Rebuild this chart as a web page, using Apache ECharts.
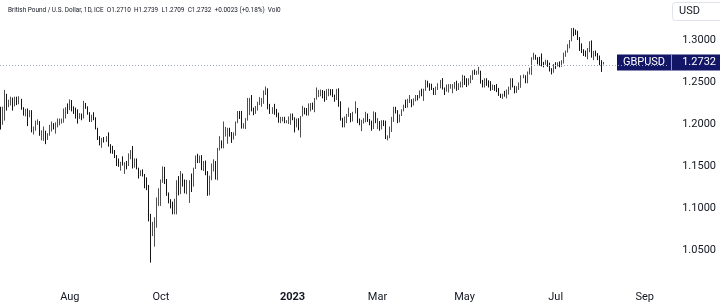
<!DOCTYPE html>
<html><head><meta charset="utf-8">
<script src="https://cdn.jsdelivr.net/npm/echarts@6/dist/echarts.min.js"></script>
<style>html,body{margin:0;padding:0;background:#fff}#c{width:720px;height:307px}</style>
</head><body><div id="c"></div>
<script>
// ---- data: daily [open, high, low, close], one array per month (weekdays only) ----
const startDate = '2022-06-14';
const totalSlots = 330; // weekdays shown on the time scale (incl. empty future days)
const jun22 = [[1.2135,1.2205,1.1934,1.1995],[1.2000,1.2205,1.1990,1.2180],[1.2180,1.2406,1.2040,1.2350],[1.2350,1.2360,1.2160,1.2225],[1.2225,1.2290,1.2200,1.2265],[1.2265,1.2325,1.2220,1.2275],[1.2275,1.2315,1.2160,1.2260],[1.2260,1.2325,1.2210,1.2270],[1.2270,1.2325,1.2225,1.2265],[1.2265,1.2330,1.2235,1.2270],[1.2270,1.2300,1.2170,1.2185],[1.2185,1.2200,1.2100,1.2125],[1.2125,1.2180,1.2090,1.2175]];
const jul22 = [[1.2175,1.2185,1.1975,1.2100],[1.2100,1.2165,1.2080,1.2115],[1.2115,1.2165,1.1900,1.1925],[1.1925,1.1970,1.1875,1.1945],[1.1945,1.2040,1.1920,1.2030],[1.2030,1.2055,1.1990,1.2030],[1.2030,1.2035,1.1860,1.1890],[1.1890,1.1925,1.1805,1.1890],[1.1890,1.1970,1.1800,1.1915],[1.1915,1.1920,1.1760,1.1830],[1.1830,1.1890,1.1810,1.1865],[1.1865,1.1990,1.1860,1.1960],[1.1960,1.2030,1.1910,1.1985],[1.1985,1.2010,1.1935,1.1975],[1.1975,1.2020,1.1885,1.1995],[1.1995,1.2065,1.1960,1.2005],[1.2005,1.2065,1.1985,1.2030],[1.2030,1.2065,1.2005,1.2035],[1.2035,1.2185,1.2015,1.2160],[1.2160,1.2200,1.2065,1.2175],[1.2175,1.2245,1.2120,1.2170]];
const aug22 = [[1.2170,1.2293,1.2165,1.2240],[1.2240,1.2285,1.2150,1.2165],[1.2165,1.2210,1.2120,1.2155],[1.2155,1.2195,1.2065,1.2150],[1.2150,1.2175,1.2005,1.2075],[1.2075,1.2130,1.2060,1.2100],[1.2100,1.2125,1.2045,1.2075],[1.2075,1.2276,1.2065,1.2215],[1.2215,1.2250,1.2180,1.2200],[1.2200,1.2210,1.2110,1.2130],[1.2130,1.2140,1.2025,1.2055],[1.2055,1.2110,1.2025,1.2095],[1.2095,1.2140,1.2045,1.2060],[1.2060,1.2080,1.1935,1.1935],[1.1935,1.1955,1.1810,1.1830],[1.1830,1.1855,1.1745,1.1765],[1.1765,1.1835,1.1717,1.1825],[1.1825,1.1845,1.1780,1.1810],[1.1810,1.1855,1.1785,1.1830],[1.1830,1.1900,1.1730,1.1735],[1.1735,1.1760,1.1650,1.1690],[1.1690,1.1740,1.1645,1.1650],[1.1650,1.1690,1.1595,1.1620]];
const sep22 = [[1.1620,1.1630,1.1500,1.1540],[1.1540,1.1590,1.1490,1.1510],[1.1510,1.1550,1.1445,1.1525],[1.1525,1.1615,1.1505,1.1510],[1.1510,1.1545,1.1405,1.1530],[1.1530,1.1560,1.1460,1.1505],[1.1505,1.1650,1.1500,1.1590],[1.1590,1.1690,1.1580,1.1680],[1.1680,1.1738,1.1470,1.1500],[1.1500,1.1590,1.1480,1.1545],[1.1545,1.1590,1.1460,1.1470],[1.1470,1.1480,1.1351,1.1420],[1.1420,1.1450,1.1380,1.1435],[1.1435,1.1460,1.1375,1.1385],[1.1385,1.1405,1.1235,1.1270],[1.1270,1.1365,1.1212,1.1255],[1.1255,1.1275,1.0840,1.0860],[1.0860,1.0930,1.0350,1.0685],[1.0685,1.0835,1.0665,1.0730],[1.0730,1.0890,1.0540,1.0890],[1.0890,1.1125,1.0765,1.1120],[1.1120,1.1235,1.1025,1.1165]];
const oct22 = [[1.1165,1.1340,1.1025,1.1320],[1.1320,1.1495,1.1300,1.1475],[1.1475,1.1490,1.1285,1.1325],[1.1325,1.1345,1.1145,1.1155],[1.1155,1.1185,1.1055,1.1090],[1.1090,1.1105,1.0995,1.1055],[1.1055,1.1075,1.0925,1.0970],[1.0970,1.1110,1.0925,1.1100],[1.1100,1.1330,1.0925,1.1320],[1.1320,1.1380,1.1150,1.1175],[1.1175,1.1440,1.1165,1.1355],[1.1355,1.1410,1.1255,1.1320],[1.1320,1.1340,1.1175,1.1215],[1.1215,1.1335,1.1165,1.1225],[1.1225,1.1330,1.1060,1.1305],[1.1305,1.1410,1.1190,1.1290],[1.1290,1.1480,1.1255,1.1475],[1.1475,1.1625,1.1465,1.1620],[1.1620,1.1645,1.1535,1.1585],[1.1585,1.1625,1.1535,1.1620],[1.1620,1.1630,1.1450,1.1465]];
const nov22 = [[1.1465,1.1560,1.1440,1.1505],[1.1505,1.1565,1.1390,1.1390],[1.1390,1.1440,1.1145,1.1160],[1.1160,1.1385,1.1150,1.1375],[1.1375,1.1530,1.1330,1.1510],[1.1510,1.1580,1.1435,1.1545],[1.1545,1.1560,1.1340,1.1355],[1.1355,1.1715,1.1330,1.1705],[1.1705,1.1855,1.1685,1.1795],[1.1795,1.1805,1.1710,1.1755],[1.1755,1.2030,1.1710,1.1860],[1.1860,1.1965,1.1850,1.1870],[1.1870,1.1955,1.1765,1.1905],[1.1905,1.1955,1.1850,1.1890],[1.1890,1.1905,1.1775,1.1825],[1.1825,1.1900,1.1815,1.1890],[1.1890,1.2030,1.1860,1.2015],[1.2015,1.2155,1.2010,1.2120],[1.2120,1.2155,1.2060,1.2095],[1.2095,1.2155,1.1945,1.1960],[1.1960,1.2010,1.1945,1.1965],[1.1965,1.2070,1.1940,1.2055]];
const dec22 = [[1.2055,1.2310,1.2040,1.2265],[1.2265,1.2310,1.2105,1.2285],[1.2285,1.2345,1.2150,1.2180],[1.2180,1.2195,1.2105,1.2160],[1.2160,1.2215,1.2120,1.2190],[1.2190,1.2265,1.2160,1.2235],[1.2235,1.2320,1.2225,1.2265],[1.2265,1.2310,1.2205,1.2275],[1.2275,1.2400,1.2240,1.2370],[1.2370,1.2446,1.2345,1.2420],[1.2420,1.2425,1.2175,1.2185],[1.2185,1.2240,1.2120,1.2140],[1.2140,1.2200,1.2120,1.2170],[1.2170,1.2240,1.2110,1.2155],[1.2155,1.2180,1.2080,1.2100],[1.2100,1.2135,1.2015,1.2035],[1.2035,1.2085,1.2010,1.2045],[1.2045,1.2085,1.2030,1.2070],[1.2070,1.2085,1.2010,1.2025],[1.2025,1.2045,1.2010,1.2025],[1.2025,1.2090,1.2000,1.2070],[1.2070,1.2125,1.1990,1.2095]];
const jan23 = [[1.2095,1.2125,1.2045,1.2065],[1.2065,1.2080,1.1900,1.1970],[1.1970,1.2065,1.1960,1.2060],[1.2060,1.2070,1.1925,1.1935],[1.1935,1.2095,1.1840,1.2090],[1.2090,1.2215,1.2090,1.2180],[1.2180,1.2195,1.2115,1.2155],[1.2155,1.2190,1.2100,1.2150],[1.2150,1.2245,1.2100,1.2215],[1.2215,1.2250,1.2150,1.2230],[1.2230,1.2255,1.2170,1.2200],[1.2200,1.2310,1.2140,1.2305],[1.2305,1.2435,1.2290,1.2350],[1.2350,1.2405,1.2320,1.2390],[1.2390,1.2410,1.2330,1.2395],[1.2395,1.2405,1.2305,1.2370],[1.2370,1.2395,1.2265,1.2315],[1.2315,1.2415,1.2285,1.2405],[1.2405,1.2420,1.2330,1.2405],[1.2405,1.2415,1.2340,1.2390],[1.2390,1.2415,1.2320,1.2330],[1.2330,1.2350,1.2265,1.2320]];
const feb23 = [[1.2320,1.2418,1.2285,1.2395],[1.2395,1.2425,1.2205,1.2225],[1.2225,1.2270,1.2040,1.2050],[1.2050,1.2075,1.1960,1.2020],[1.2020,1.2090,1.1960,1.2045],[1.2045,1.2120,1.2010,1.2105],[1.2105,1.2195,1.2085,1.2115],[1.2115,1.2130,1.2020,1.2050],[1.2050,1.2145,1.2030,1.2135],[1.2135,1.2270,1.2125,1.2180],[1.2180,1.2190,1.2010,1.2040],[1.2040,1.2065,1.1985,1.2005],[1.2005,1.2050,1.1915,1.2030],[1.2030,1.2070,1.2005,1.2040],[1.2040,1.2145,1.2020,1.2115],[1.2115,1.2125,1.2025,1.2050],[1.2050,1.2060,1.1985,1.1995],[1.1995,1.2040,1.1920,1.1945],[1.1945,1.2150,1.1940,1.2070],[1.2070,1.2140,1.2010,1.2020]];
const mar23 = [[1.2020,1.2070,1.1940,1.2025],[1.2025,1.2035,1.1920,1.1950],[1.1950,1.2045,1.1935,1.2040],[1.2040,1.2045,1.1975,1.2015],[1.2015,1.2040,1.1820,1.1825],[1.1825,1.1865,1.1805,1.1840],[1.1840,1.1970,1.1830,1.1955],[1.1955,1.2085,1.1905,1.2030],[1.2030,1.2205,1.2025,1.2175],[1.2175,1.2205,1.2125,1.2160],[1.2160,1.2165,1.2010,1.2060],[1.2060,1.2115,1.2020,1.2110],[1.2110,1.2175,1.2095,1.2175],[1.2175,1.2230,1.2150,1.2225],[1.2225,1.2290,1.2190,1.2215],[1.2215,1.2300,1.2195,1.2270],[1.2270,1.2345,1.2250,1.2285],[1.2285,1.2295,1.2200,1.2230],[1.2230,1.2305,1.2220,1.2295],[1.2295,1.2345,1.2270,1.2330],[1.2330,1.2345,1.2280,1.2315],[1.2315,1.2400,1.2305,1.2390],[1.2390,1.2420,1.2330,1.2335]];
const apr23 = [[1.2335,1.2420,1.2275,1.2405],[1.2405,1.2525,1.2395,1.2495],[1.2495,1.2515,1.2435,1.2450],[1.2450,1.2485,1.2395,1.2445],[1.2445,1.2480,1.2405,1.2415],[1.2415,1.2430,1.2345,1.2360],[1.2360,1.2445,1.2345,1.2420],[1.2420,1.2485,1.2405,1.2450],[1.2450,1.2525,1.2425,1.2495],[1.2495,1.2546,1.2410,1.2415],[1.2415,1.2435,1.2345,1.2410],[1.2410,1.2470,1.2385,1.2430],[1.2430,1.2475,1.2375,1.2440],[1.2440,1.2475,1.2420,1.2440],[1.2440,1.2475,1.2365,1.2440],[1.2440,1.2500,1.2420,1.2490],[1.2490,1.2515,1.2395,1.2415],[1.2415,1.2485,1.2405,1.2470],[1.2470,1.2505,1.2435,1.2495],[1.2495,1.2585,1.2435,1.2565]];
const may23 = [[1.2565,1.2575,1.2465,1.2495],[1.2495,1.2545,1.2440,1.2475],[1.2475,1.2545,1.2460,1.2525],[1.2525,1.2580,1.2485,1.2565],[1.2565,1.2640,1.2525,1.2630],[1.2630,1.2650,1.2585,1.2620],[1.2620,1.2635,1.2585,1.2625],[1.2625,1.2680,1.2590,1.2630],[1.2630,1.2635,1.2480,1.2505],[1.2505,1.2525,1.2435,1.2445],[1.2445,1.2545,1.2435,1.2530],[1.2530,1.2545,1.2455,1.2490],[1.2490,1.2520,1.2435,1.2455],[1.2455,1.2510,1.2395,1.2415],[1.2415,1.2470,1.2405,1.2445],[1.2445,1.2465,1.2395,1.2430],[1.2430,1.2475,1.2380,1.2410],[1.2410,1.2430,1.2335,1.2345],[1.2345,1.2360,1.2310,1.2315],[1.2315,1.2360,1.2300,1.2345],[1.2345,1.2395,1.2325,1.2335],[1.2335,1.2410,1.2305,1.2370],[1.2370,1.2445,1.2350,1.2435]];
const jun23 = [[1.2435,1.2545,1.2405,1.2530],[1.2530,1.2545,1.2435,1.2445],[1.2445,1.2455,1.2365,1.2435],[1.2435,1.2450,1.2370,1.2435],[1.2435,1.2495,1.2405,1.2480],[1.2480,1.2580,1.2430,1.2575],[1.2575,1.2590,1.2545,1.2575],[1.2575,1.2580,1.2485,1.2505],[1.2505,1.2625,1.2485,1.2605],[1.2605,1.2670,1.2590,1.2650],[1.2650,1.2795,1.2585,1.2790],[1.2790,1.2848,1.2765,1.2820],[1.2820,1.2825,1.2765,1.2790],[1.2790,1.2795,1.2710,1.2765],[1.2765,1.2800,1.2695,1.2740],[1.2740,1.2840,1.2685,1.2720],[1.2720,1.2740,1.2675,1.2715],[1.2715,1.2765,1.2705,1.2715],[1.2715,1.2760,1.2680,1.2710],[1.2710,1.2730,1.2625,1.2640],[1.2640,1.2665,1.2590,1.2615],[1.2615,1.2715,1.2610,1.2705]];
const jul23 = [[1.2705,1.2735,1.2655,1.2700],[1.2700,1.2735,1.2685,1.2715],[1.2715,1.2745,1.2675,1.2705],[1.2705,1.2760,1.2680,1.2750],[1.2750,1.2850,1.2720,1.2835],[1.2835,1.2875,1.2800,1.2860],[1.2860,1.2950,1.2850,1.2935],[1.2935,1.3000,1.2900,1.2995],[1.2995,1.3142,1.2985,1.3130],[1.3130,1.3144,1.3045,1.3085],[1.3085,1.3125,1.3060,1.3080],[1.3080,1.3110,1.3000,1.3035],[1.3035,1.3035,1.2870,1.2935],[1.2935,1.2960,1.2845,1.2875],[1.2875,1.2890,1.2810,1.2855],[1.2855,1.2875,1.2800,1.2825],[1.2825,1.2905,1.2770,1.2890],[1.2890,1.2985,1.2855,1.2955],[1.2955,1.2995,1.2790,1.2795],[1.2795,1.2870,1.2760,1.2850],[1.2850,1.2875,1.2805,1.2835]];
const aug23 = [[1.2835,1.2845,1.2760,1.2780],[1.2780,1.2815,1.2700,1.2720],[1.2720,1.2760,1.2620,1.2709],[1.2710,1.2739,1.2709,1.2732]];

const tickLabels = [['2022-08-01','Aug'],['2022-10-03','Oct'],['2023-01-02','2023'],['2023-03-01','Mar'],['2023-05-01','May'],['2023-07-03','Jul'],['2023-09-01','Sep']];
const priceTicks = [1.05, 1.10, 1.15, 1.20, 1.25, 1.30];
const symbolName = 'GBPUSD';
const currency = 'USD';
const headerText = 'British Pound / U.S. Dollar, 1D, ICE  O1.2710  H1.2739  L1.2709  C1.2732  +0.0023 (+0.18%)  Vol0';

// ---- build ----
function businessDays(startIso, count) {
  const out = []; const d = new Date(startIso + 'T00:00:00Z');
  while (out.length < count) {
    const wd = d.getUTCDay();
    if (wd !== 0 && wd !== 6) out.push(d.toISOString().slice(0, 10));
    d.setUTCDate(d.getUTCDate() + 1);
  }
  return out;
}
const rows = [].concat(jun22, jul22, aug22, sep22, oct22, nov22, dec22, jan23, feb23, mar23, apr23, may23, jun23, jul23, aug23);
const dates = businessDays(startDate, totalSlots);
const candles = dates.map((d, i) => rows[i] ? [rows[i][0], rows[i][3], rows[i][2], rows[i][1]] : '-');
const lastClose = rows[rows.length - 1][3];
const labelMap = Object.fromEntries(tickLabels);
const tickSet = new Set(priceTicks.map(v => v.toFixed(2)));

const FONT = 'Roboto, "Liberation Sans", sans-serif';
const chart = echarts.init(document.getElementById('c'), null, { renderer: 'canvas' });
chart.setOption({
  animation: false,
  backgroundColor: '#ffffff',
  title: {
    text: headerText, left: 3, top: 2,
    textStyle: { fontSize: 6.4, fontWeight: 'normal', color: '#131722', fontFamily: FONT }
  },
  grid: { left: 0, right: 52, top: 0, bottom: 15, containLabel: false },
  xAxis: {
    type: 'category', data: dates, boundaryGap: true,
    axisLine: { show: false }, axisTick: { show: false }, splitLine: { show: false },
    axisLabel: {
      interval: (i, v) => labelMap[v] !== undefined,
      formatter: v => labelMap[v] === '2023' ? '{b|2023}' : (labelMap[v] || ''),
      margin: 0, color: '#131722', fontSize: 11, fontFamily: FONT,
      rich: { b: { fontWeight: 'bold', fontSize: 11, color: '#131722', fontFamily: FONT } }
    }
  },
  yAxis: {
    type: 'value', position: 'right', scale: false,
    min: 1.0, max: 1.30 + 40 / 840, interval: 0.05,
    axisLine: { show: false }, axisTick: { show: false }, splitLine: { show: false },
    axisLabel: {
      align: 'right', margin: 48, color: '#131722', fontSize: 11, fontFamily: FONT,
      formatter: v => tickSet.has(v.toFixed(2)) ? v.toFixed(4) : ''
    }
  },
  series: [{
    type: 'candlestick', data: candles, barWidth: 1.1,
    itemStyle: { color: '#8c8c8c', color0: '#141414', borderColor: '#505050', borderColor0: '#141414', borderWidth: 1 },
    markLine: {
      silent: true, symbol: 'none', animation: false,
      label: { show: false },
      lineStyle: { type: [1, 2], color: '#9aa3c0', width: 1 },
      data: [{ yAxis: lastClose }]
    }
  }]
});

const yPx = chart.convertToPixel({ yAxisIndex: 0 }, lastClose);
chart.setOption({
  graphic: [
    { type: 'rect', shape: { x: 672.5, y: 2.5, width: 52, height: 18, r: 3 }, style: { fill: '#fff', stroke: '#e0e3eb', lineWidth: 1 } },
    { type: 'text', x: 679, y: 11.5, style: { text: currency, fill: '#131722', fontSize: 11, fontFamily: FONT, verticalAlign: 'middle' } },
    { type: 'rect', shape: { x: 617, y: yPx - 8, width: 103, height: 16 }, style: { fill: '#131566' } },
    { type: 'line', shape: { x1: 671.5, y1: yPx - 8, x2: 671.5, y2: yPx + 8 }, style: { stroke: '#8f92c0', lineWidth: 1 } },
    { type: 'text', x: 644, y: yPx, style: { text: symbolName, fill: '#fff', fontSize: 11, fontFamily: FONT, align: 'center', verticalAlign: 'middle' } },
    { type: 'text', x: 716, y: yPx, style: { text: lastClose.toFixed(4), fill: '#fff', fontSize: 11, fontFamily: FONT, align: 'right', verticalAlign: 'middle' } }
  ]
});
</script></body></html>
